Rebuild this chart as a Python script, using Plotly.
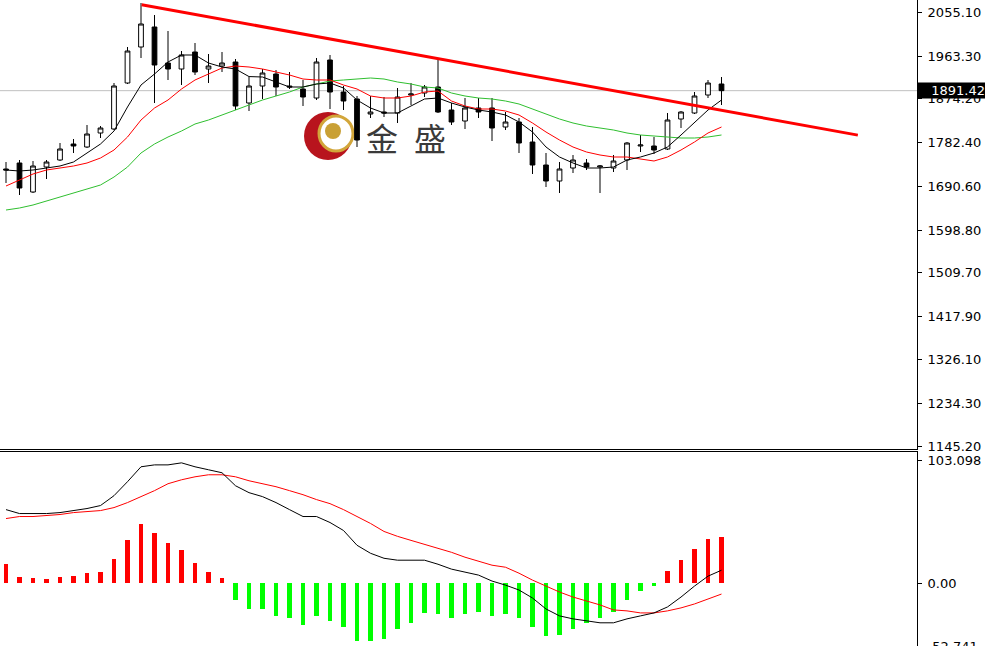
import plotly.graph_objects as go

# ---------------- data ----------------
idx = list(range(54))

opens = [1726.9, 1739.5, 1678.6, 1731.1, 1745.8, 1779.4, 1773.1, 1802.5, 1810.9, 1907.5,
         1983.1, 2025.1, 1949.5, 1936.9, 1972.6, 1936.9, 1943.2, 1951.6, 1865.5, 1901.2,
         1926.4, 1901.2, 1894.9, 1876.0, 1955.8, 1888.6, 1873.9, 1842.4, 1846.6, 1844.5,
         1882.3, 1886.5, 1899.1, 1850.8, 1827.7, 1855.0, 1855.0, 1815.1, 1825.6, 1783.6,
         1735.3, 1701.7, 1729.0, 1739.5, 1731.1, 1729.0, 1745.8, 1775.2, 1775.2, 1768.9,
         1831.9, 1844.5, 1882.3, 1905.4]
highs = [1741.6, 1745.8, 1743.7, 1745.8, 1781.5, 1789.9, 1819.3, 1817.2, 1907.5, 1983.1,
         2075.5, 2050.3, 2016.7, 1974.7, 1991.5, 1968.4, 1972.6, 1957.9, 1920.1, 1936.9,
         1934.8, 1930.6, 1913.8, 1960.0, 1966.3, 1901.2, 1880.2, 1880.2, 1878.1, 1897.0,
         1907.5, 1903.3, 1957.9, 1865.5, 1876.0, 1876.0, 1876.0, 1846.6, 1834.0, 1815.1,
         1760.5, 1741.6, 1756.3, 1747.9, 1735.3, 1756.3, 1783.6, 1798.3, 1794.1, 1844.5,
         1848.7, 1888.6, 1913.8, 1920.1]
lows = [1697.5, 1672.3, 1676.5, 1705.9, 1743.7, 1760.5, 1771.0, 1792.0, 1808.8, 1905.4,
        1960.0, 1865.5, 1913.8, 1903.3, 1924.3, 1907.5, 1930.6, 1850.8, 1848.7, 1873.9,
        1880.2, 1894.9, 1859.2, 1871.8, 1852.9, 1850.8, 1773.1, 1834.0, 1836.1, 1823.5,
        1861.3, 1878.1, 1844.5, 1819.3, 1810.9, 1834.0, 1785.7, 1808.8, 1760.5, 1716.4,
        1689.1, 1676.5, 1718.5, 1724.8, 1676.5, 1720.6, 1724.8, 1762.6, 1758.4, 1766.8,
        1813.0, 1842.4, 1876.0, 1861.3]
closes = [1724.8, 1687.0, 1733.2, 1741.6, 1768.9, 1775.2, 1800.4, 1813.0, 1901.2, 1974.7,
          2031.4, 1945.3, 1936.9, 1966.3, 1930.6, 1943.2, 1949.5, 1859.2, 1901.2, 1928.5,
          1899.1, 1899.1, 1878.1, 1951.6, 1888.6, 1869.7, 1787.8, 1846.6, 1844.5, 1878.1,
          1884.4, 1899.1, 1846.6, 1825.6, 1855.0, 1846.6, 1813.0, 1825.6, 1781.5, 1735.3,
          1701.7, 1726.9, 1745.8, 1731.1, 1733.2, 1743.7, 1781.5, 1777.3, 1766.8, 1829.8,
          1846.6, 1880.2, 1907.5, 1891.42]

ma_black = [1724.8, 1722.7, 1724.8, 1729.0, 1733.2, 1741.6, 1760.5, 1779.4, 1806.7, 1857.1,
            1903.3, 1926.4, 1951.6, 1966.3, 1966.3, 1949.5, 1941.1, 1936.9, 1921.0, 1920.1,
            1909.6, 1899.1, 1899.1, 1905.4, 1907.5, 1897.0, 1871.8, 1855.0, 1844.5, 1844.5,
            1859.2, 1873.9, 1876.0, 1865.5, 1857.1, 1850.8, 1846.6, 1840.3, 1825.6, 1804.6,
            1773.1, 1752.1, 1739.5, 1729.0, 1729.0, 1731.1, 1745.8, 1752.1, 1760.5, 1773.1,
            1798.3, 1825.6, 1850.8, 1871.8]
ma_red = [1691.2, 1703.8, 1716.4, 1724.8, 1729.0, 1733.2, 1739.5, 1750.0, 1766.8, 1794.1,
          1829.8, 1855.0, 1871.8, 1894.9, 1913.8, 1926.4, 1939.0, 1943.2, 1941.1, 1936.9,
          1930.6, 1924.3, 1915.9, 1913.8, 1913.8, 1903.3, 1894.9, 1880.2, 1876.0, 1876.0,
          1880.2, 1888.6, 1890.7, 1869.7, 1859.2, 1852.9, 1852.9, 1848.7, 1840.3, 1823.5,
          1804.6, 1787.8, 1773.1, 1762.6, 1756.3, 1752.1, 1752.1, 1747.9, 1743.7, 1752.1,
          1766.8, 1783.6, 1802.5, 1815.1]
ma_green = [1640.8, 1645.0, 1651.3, 1659.7, 1668.1, 1676.5, 1684.9, 1693.3, 1710.1, 1731.1,
            1760.5, 1779.4, 1794.1, 1806.7, 1821.4, 1829.8, 1840.3, 1850.8, 1861.3, 1871.8,
            1880.2, 1888.6, 1899.1, 1905.4, 1911.7, 1913.8, 1915.9, 1918.0, 1915.9, 1909.6,
            1905.4, 1899.1, 1897.0, 1886.5, 1880.2, 1876.0, 1873.9, 1869.7, 1863.4, 1852.9,
            1842.4, 1831.9, 1823.5, 1817.2, 1813.0, 1808.8, 1802.5, 1798.3, 1796.2, 1794.1,
            1792.0, 1792.0, 1794.1, 1798.3]

macd_hist = [15.8, 5.3, 3.9, 3.1, 5.3, 6.1, 8.6, 9.4, 20.6, 35.8,
             49.7, 41.9, 33.6, 28.1, 16.9, 9.4, 3.9, -14.2, -21.9, -21.9,
             -27.2, -29.4, -35.0, -27.2, -31.7, -36.4, -48.9, -48.9, -46.9, -38.3,
             -33.1, -25.2, -25.8, -29.4, -25.8, -23.9, -27.2, -25.8, -29.4, -36.9,
             -44.7, -43.3, -38.3, -33.1, -29.4, -23.9, -14.2, -6.4, -2.2, 10.3,
             19.2, 28.9, 36.7, 38.6]
macd_line = [61.6, 58.3, 58.3, 58.3, 59.1, 60.8, 62.5, 65.0, 73.3, 85.0,
             97.5, 99.1, 99.1, 100.8, 97.5, 95.0, 92.5, 81.6, 75.8, 72.5,
             67.5, 61.6, 55.8, 55.8, 50.8, 44.1, 31.7, 25.0, 20.8, 19.2,
             19.2, 19.2, 15.8, 11.7, 9.2, 6.7, 1.7, -1.7, -5.8, -12.5,
             -21.7, -27.5, -30.0, -31.6, -33.3, -33.3, -30.0, -27.5, -25.0, -20.0,
             -11.7, -2.5, 5.8, 10.8]
macd_signal = [54.1, 55.8, 55.8, 56.6, 57.5, 59.1, 60.0, 60.8, 63.3, 67.5,
               72.5, 77.5, 83.3, 86.6, 89.1, 90.8, 90.8, 89.1, 85.8, 83.3,
               80.8, 77.5, 74.1, 70.0, 66.6, 61.6, 55.8, 50.0, 43.3, 39.2,
               35.8, 32.5, 29.2, 25.8, 21.7, 18.3, 15.0, 13.3, 8.3, 2.5,
               -2.5, -7.5, -11.7, -15.0, -18.3, -22.5, -23.3, -25.0, -25.0, -23.3,
               -20.8, -17.5, -13.3, -9.2]

trend_x = [10.05, 63.1]
trend_y = [2072.0, 1798.0]

price_ticks = [2055.10, 1963.30, 1874.20, 1782.40, 1690.60, 1598.80,
               1509.70, 1417.90, 1326.10, 1234.30, 1145.20]
macd_ticks = [103.098, 0.0, -52.741]
macd_tick_text = ["103.098", "0.00", "-52.741"]
last_price = closes[-1]

# ---------------- figure ----------------
W, H = 985, 646
PW = 917  # plot area width in px
FONT = "DejaVu Sans"

fig = go.Figure()

fig.add_trace(go.Candlestick(
    x=idx, open=opens, high=highs, low=lows, close=closes,
    increasing=dict(line=dict(color="black", width=1), fillcolor="white"),
    decreasing=dict(line=dict(color="black", width=1), fillcolor="black"),
    whiskerwidth=0, xaxis="x", yaxis="y", hoverinfo="skip", showlegend=False))

fig.add_trace(go.Scatter(x=idx, y=ma_green, mode="lines", line=dict(color="#2fbf2f", width=1),
                         xaxis="x", yaxis="y", hoverinfo="skip"))
fig.add_trace(go.Scatter(x=idx, y=ma_red, mode="lines", line=dict(color="#ff0000", width=1),
                         xaxis="x", yaxis="y", hoverinfo="skip"))
fig.add_trace(go.Scatter(x=idx, y=ma_black, mode="lines", line=dict(color="black", width=1),
                         xaxis="x", yaxis="y", hoverinfo="skip"))
fig.add_trace(go.Scatter(x=trend_x, y=trend_y, mode="lines", line=dict(color="#ff0000", width=3),
                         xaxis="x", yaxis="y", hoverinfo="skip"))

fig.add_trace(go.Bar(x=idx, y=macd_hist, width=0.33,
                     marker=dict(color=["#ff0000" if v > 0 else "#00ff00" for v in macd_hist],
                                 line=dict(width=0)),
                     xaxis="x2", yaxis="y2", hoverinfo="skip"))
fig.add_trace(go.Scatter(x=idx, y=macd_signal, mode="lines", line=dict(color="#ff0000", width=1),
                         xaxis="x2", yaxis="y2", hoverinfo="skip"))
fig.add_trace(go.Scatter(x=idx, y=macd_line, mode="lines", line=dict(color="black", width=1),
                         xaxis="x2", yaxis="y2", hoverinfo="skip"))

x_range = [-6 / 13.5, (PW - 6) / 13.5]
main_bottom_px = 449
macd_top_px = 452

tickfont = dict(family=FONT, size=13, color="black")

fig.update_layout(
    width=W, height=H,
    margin=dict(l=0, r=W - PW, t=0, b=0, autoexpand=False),
    paper_bgcolor="white", plot_bgcolor="white",
    showlegend=False, boxgap=0.5, bargap=0,
    xaxis=dict(domain=[0, 1], range=x_range, anchor="y", showticklabels=False, ticks="",
               showgrid=False, zeroline=False, showline=True, linecolor="black", linewidth=1,
               rangeslider=dict(visible=False), fixedrange=True, automargin=False),
    xaxis2=dict(domain=[0, 1], range=x_range, anchor="y2", matches="x", side="top",
                showticklabels=False, ticks="", showgrid=False, zeroline=False,
                showline=True, linecolor="black", linewidth=1, automargin=False),
    yaxis=dict(domain=[1 - main_bottom_px / H, 1], range=[2081.8 - 2.1 * main_bottom_px, 2081.8],
               side="right", anchor="x", tickvals=price_ticks,
               ticktext=[f"{v:.2f}" for v in price_ticks], ticks="outside", ticklen=4,
               tickcolor="black", showline=True, linecolor="black", linewidth=1,
               showgrid=False, zeroline=False, tickfont=tickfont, ticklabelstandoff=3,
               automargin=False, ticklabeloverflow="allow"),
    yaxis2=dict(domain=[0, (H - macd_top_px) / H], range=[-52.741, 109.9],
                side="right", anchor="x2", tickvals=macd_ticks, ticktext=macd_tick_text,
                ticks="outside", ticklen=4, tickcolor="black", showline=True,
                linecolor="black", linewidth=1, showgrid=False, zeroline=False,
                tickfont=tickfont, ticklabelstandoff=3,
                automargin=False, ticklabeloverflow="allow"),
)

# current price line and label
fig.add_shape(type="line", xref="x domain", yref="y", x0=0, x1=1, y0=last_price, y1=last_price,
              line=dict(color="#c0c0c0", width=1), layer="below")
fig.add_annotation(x=1, xref="paper", xanchor="left", y=last_price, yref="y", yanchor="middle",
                   text=f"{last_price:.2f}", showarrow=False, bgcolor="black",
                   font=dict(family=FONT, size=13, color="white"),
                   width=66, height=13, align="right", borderpad=1)


# watermark logo (decoration, pixel-placed)
def px(x):
    return x / PW


def py(y):
    return 1 - y / H


fig.add_shape(type="circle", xref="paper", yref="paper", x0=px(304), x1=px(352),
              y0=py(160), y1=py(112), fillcolor="#b8141d", line=dict(width=0), layer="below")
fig.add_shape(type="circle", xref="paper", yref="paper", x0=px(319), x1=px(353),
              y0=py(151), y1=py(116), fillcolor="white", line=dict(color="#d2a63a", width=3),
              layer="below")
fig.add_shape(type="circle", xref="paper", yref="paper", x0=px(325), x1=px(341),
              y0=py(139), y1=py(123), fillcolor="#c9a035", line=dict(width=0), layer="below")

for ch, cx in (("金", 382), ("盛", 430)):
    fig.add_annotation(x=px(cx), y=py(137), xref="paper", yref="paper", text=ch,
                       showarrow=False, xanchor="center", yanchor="middle",
                       font=dict(family="Noto Sans CJK SC", size=32, color="#3a3a3a"))

fig.write_html("out.html", config={"displayModeBar": False},
               post_script="document.body.style.margin='0';document.body.style.overflow='hidden';")
